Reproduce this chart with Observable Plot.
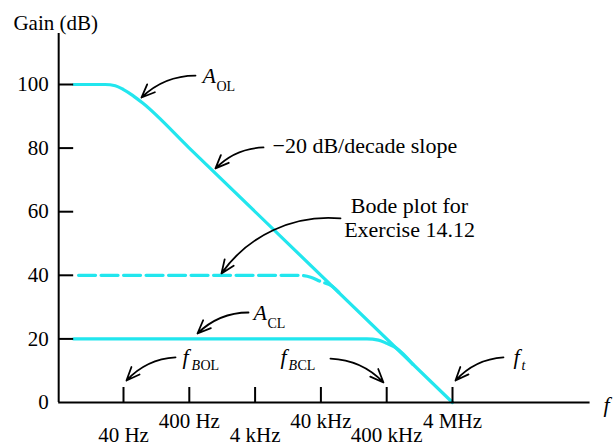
<!DOCTYPE html>
<html><head><meta charset="utf-8">
<script src="https://cdn.jsdelivr.net/npm/d3@7"></script>
<script src="https://cdn.jsdelivr.net/npm/@observablehq/plot@0.6"></script>
<style>body{margin:0;background:#fff}</style>
</head><body><div id="chart"></div>
<script>
// ---- data ----
const freqTicks = [40, 400, 4e3, 4e4, 4e5, 4e6];
const freqTickLabels = ["40 Hz", "400 Hz", "4 kHz", "40 kHz", "400 kHz", "4 MHz"];
const freqLabelRow = ["low", "high", "low", "high", "low", "high"];
const gainTicks = [0, 20, 40, 60, 80, 100];
const gainTickMarks = [20, 40, 60, 80, 100];
const freqRange = [4.14, 4.93e8];
const gainRange = [0, 116];

// open-loop gain A_OL
const aolFreq = [7, 21, 30, 40, 55, 80, 400, 4e6];
const aolGain = [100, 100, 99.6, 98.4, 96.6, 94.0, 80.0, 0];
// closed-loop gain A_CL
const aclFreq = [7, 2e5, 3e5, 4e5, 5.6e5, 1e6];
const aclGain = [20, 20, 19.6, 18.6, 17.1, 12.0];
// Exercise 14.12 (dashed)
const bodeFreq = [8.3, 1.8e4, 2.8e4, 4e4, 6e4, 8e4];
const bodeGain = [40, 40, 39.4, 38.0, 36.5, 34.0];

// annotation arrows (data coords)
const arrowFromFreq = [497, 5370, 79400, 3177, 247, 55900, 2.38e7];
const arrowFromGain = [102.8, 80.2, 57.9, 28.3, 14.2, 13.8, 14.2];
const arrowToFreq = [75, 1000, 1234, 533, 44.4, 357000, 4.44e6];
const arrowToGain = [95.9, 73.6, 40.6, 21.7, 6.9, 6.3, 6.9];
const arrowBend = [-22, -22, -30, -22, -22, 22, -22];

// annotation labels (data anchors)
const labelText = ["A", "OL", "−20 dB/decade slope", "Bode plot for\nExercise 14.12", "A", "CL",
  "f", "B", "OL", "f", "B", "CL", "f", "t", "f", "Gain (dB)"];
const labelFreq = [635, 635, 7350, 889000, 3783, 3783, 315, 315, 315, 9730, 9730, 9730, 3.38e7, 3.38e7, 7.9e8, 0.85];
const labelGain = [100.6, 100.6, 78.6, 51.9, 25.8, 25.8, 11.95, 11.95, 11.95, 11.95, 11.95, 11.95, 11.95, 11.95, -3.1, 117];

// ---- styles ----
const labelStyle = [
  {size: 22, italic: true, dx: 0, dy: 0, anchor: "start"},
  {size: 14, italic: false, dx: 14, dy: 8, anchor: "start"},
  {size: 22, italic: false, dx: 0, dy: 0, anchor: "start"},
  {size: 22, italic: false, dx: 0, dy: 0, anchor: "middle"},
  {size: 22, italic: true, dx: 0, dy: 0, anchor: "start"},
  {size: 14, italic: false, dx: 14, dy: 8, anchor: "start"},
  {size: 22, italic: true, dx: 0, dy: 0, anchor: "start"},
  {size: 14, italic: true, dx: 9, dy: 6, anchor: "start"},
  {size: 14, italic: false, dx: 18, dy: 6, anchor: "start"},
  {size: 22, italic: true, dx: 0, dy: 0, anchor: "start"},
  {size: 14, italic: true, dx: 8, dy: 6, anchor: "start"},
  {size: 14, italic: false, dx: 17, dy: 6, anchor: "start"},
  {size: 22, italic: true, dx: 0, dy: 0, anchor: "start"},
  {size: 14, italic: true, dx: 8, dy: 6, anchor: "start"},
  {size: 22, italic: true, dx: 0, dy: 0, anchor: "start"},
  {size: 21, italic: false, dx: 0, dy: 0, anchor: "start"}
];

const cyan = "#22e6ee";
const serif = "Liberation Serif, Times New Roman, serif";

const zip = (fs, gs) => fs.map((f, i) => ({f, g: gs[i]}));
const aol = zip(aolFreq, aolGain);
const acl = zip(aclFreq, aclGain);
const bode = zip(bodeFreq, bodeGain);
const arrows = arrowFromFreq.map((f, i) => ({f1: f, g1: arrowFromGain[i], f2: arrowToFreq[i], g2: arrowToGain[i], bend: arrowBend[i]}));
const labels = labelText.map((t, i) => ({t, f: labelFreq[i], g: labelGain[i], ...labelStyle[i]}));
const xTicks = freqTicks.map((f, i) => ({f, label: freqTickLabels[i], row: freqLabelRow[i]}));

const bends = [...new Set(arrowBend)];
const arrowMarks = bends.map(b => Plot.arrow(arrows.filter(a => a.bend === b), {
  x1: "f1", y1: "g1", x2: "f2", y2: "g2", bend: b, stroke: "black", strokeWidth: 1.8,
  headLength: 12, headAngle: 45
}));

const labelMarks = labels.map(l => Plot.text([l], {
  x: "f", y: "g", text: "t", textAnchor: l.anchor, lineAnchor: "bottom", lineHeight: 1.12,
  dx: l.dx, dy: l.dy, fontSize: l.size, fontFamily: serif, fontStyle: l.italic ? "italic" : "normal", fill: "black"
}));

const tickLen = Math.pow(10, 15 / 65.8);

const chart = Plot.plot({
  width: 613, height: 447,
  x: {type: "log", domain: [40, 4e6], range: [123, 452], axis: null},
  y: {domain: [0, 100], range: [402, 84], axis: null},
  style: {fontFamily: serif, background: "white", overflow: "visible"},
  marks: [
    Plot.line(aol, {x: "f", y: "g", stroke: cyan, strokeWidth: 3.2, curve: "monotone-x"}),
    Plot.line(acl, {x: "f", y: "g", stroke: cyan, strokeWidth: 3.2, curve: "monotone-x"}),
    Plot.line(bode, {x: "f", y: "g", stroke: cyan, strokeWidth: 3.2, curve: "monotone-x", strokeDasharray: "17,5.5"}),
    Plot.ruleY([0], {x1: freqRange[0], x2: freqRange[1], stroke: "black", strokeWidth: 2}),
    Plot.ruleX([freqRange[0]], {y1: gainRange[0], y2: gainRange[1], stroke: "black", strokeWidth: 2}),
    Plot.ruleY(gainTickMarks, {y: d => d, x1: freqRange[0], x2: freqRange[0] * tickLen, stroke: "black", strokeWidth: 2}),
    Plot.ruleX(freqTicks, {x: d => d, y1: 0, y2: 15 / 3.18, stroke: "black", strokeWidth: 2}),
    Plot.text(gainTicks, {x: freqRange[0], y: d => d, text: d => String(d), textAnchor: "end", lineAnchor: "middle",
      dx: -10, fontSize: 21, fontFamily: serif, fill: "black"}),
    Plot.text(xTicks, {x: "f", y: 0, text: "label", textAnchor: "middle", lineAnchor: "middle",
      dy: 19, fontSize: 21, fontFamily: serif, fill: "black", filter: d => d.row === "high"}),
    Plot.text(xTicks, {x: "f", y: 0, text: "label", textAnchor: "middle", lineAnchor: "middle",
      dy: 33, fontSize: 21, fontFamily: serif, fill: "black", filter: d => d.row === "low"}),
    ...arrowMarks,
    ...labelMarks
  ]
});
document.getElementById("chart").appendChild(chart);
</script>
</body></html>
